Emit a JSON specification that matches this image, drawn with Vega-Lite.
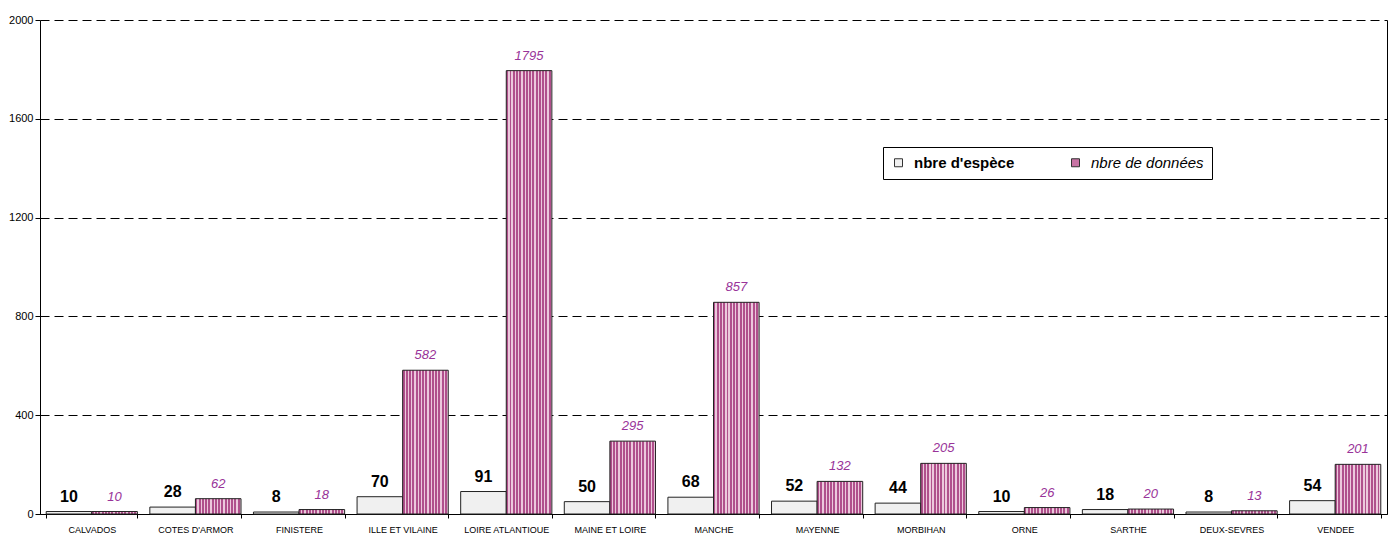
{
  "$schema": "https://vega.github.io/schema/vega-lite/v6.json",
  "width": 1347,
  "height": 494,
  "autosize": "none",
  "padding": {"left": 40, "top": 20, "right": 7, "bottom": 19},
  "background": "white",
  "config": {"view": {"stroke": null}, "font": "Liberation Sans"},
  "data": {
    "values": [
      {"dept": "CALVADOS", "series": "nbre d'espèce", "value": 10},
      {"dept": "CALVADOS", "series": "nbre de données", "value": 10},
      {"dept": "COTES D'ARMOR", "series": "nbre d'espèce", "value": 28},
      {"dept": "COTES D'ARMOR", "series": "nbre de données", "value": 62},
      {"dept": "FINISTERE", "series": "nbre d'espèce", "value": 8},
      {"dept": "FINISTERE", "series": "nbre de données", "value": 18},
      {"dept": "ILLE ET VILAINE", "series": "nbre d'espèce", "value": 70},
      {"dept": "ILLE ET VILAINE", "series": "nbre de données", "value": 582},
      {"dept": "LOIRE ATLANTIQUE", "series": "nbre d'espèce", "value": 91},
      {"dept": "LOIRE ATLANTIQUE", "series": "nbre de données", "value": 1795},
      {"dept": "MAINE ET LOIRE", "series": "nbre d'espèce", "value": 50},
      {"dept": "MAINE ET LOIRE", "series": "nbre de données", "value": 295},
      {"dept": "MANCHE", "series": "nbre d'espèce", "value": 68},
      {"dept": "MANCHE", "series": "nbre de données", "value": 857},
      {"dept": "MAYENNE", "series": "nbre d'espèce", "value": 52},
      {"dept": "MAYENNE", "series": "nbre de données", "value": 132},
      {"dept": "MORBIHAN", "series": "nbre d'espèce", "value": 44},
      {"dept": "MORBIHAN", "series": "nbre de données", "value": 205},
      {"dept": "ORNE", "series": "nbre d'espèce", "value": 10},
      {"dept": "ORNE", "series": "nbre de données", "value": 26},
      {"dept": "SARTHE", "series": "nbre d'espèce", "value": 18},
      {"dept": "SARTHE", "series": "nbre de données", "value": 20},
      {"dept": "DEUX-SEVRES", "series": "nbre d'espèce", "value": 8},
      {"dept": "DEUX-SEVRES", "series": "nbre de données", "value": 13},
      {"dept": "VENDEE", "series": "nbre d'espèce", "value": 54},
      {"dept": "VENDEE", "series": "nbre de données", "value": 201}
    ]
  },
  "encoding": {
    "x": {
      "field": "dept",
      "type": "nominal",
      "sort": ["CALVADOS", "COTES D'ARMOR", "FINISTERE", "ILLE ET VILAINE", "LOIRE ATLANTIQUE", "MAINE ET LOIRE", "MANCHE", "MAYENNE", "MORBIHAN", "ORNE", "SARTHE", "DEUX-SEVRES", "VENDEE"],
      "scale": {"paddingInner": 0.12, "paddingOuter": 0.06},
      "axis": {
        "title": null,
        "labelAngle": 0,
        "labelFontSize": 9,
        "labelColor": "black",
        "labelPadding": 7,
        "tickSize": 4,
        "tickColor": "black",
        "tickBand": "extent",
        "domainColor": "black",
        "labelLimit": 200
      }
    },
    "xOffset": {
      "field": "series",
      "type": "nominal",
      "sort": ["nbre d'espèce", "nbre de données"],
      "scale": {"paddingInner": 0, "paddingOuter": 0}
    }
  },
  "layer": [
    {
      "mark": {"type": "bar", "stroke": "#222222", "strokeWidth": 1},
      "encoding": {
        "y": {
          "field": "value",
          "type": "quantitative",
          "scale": {"domain": [0, 2000], "nice": false},
          "axis": {
            "title": null,
            "values": [0, 400, 800, 1200, 1600, 2000],
            "format": "d",
            "labelFontSize": 11,
            "labelColor": "black",
            "labelPadding": 2,
            "tickSize": 5,
            "tickColor": "black",
            "domainColor": "black",
            "grid": true,
            "gridColor": "black",
            "gridDash": [9, 5],
            "gridOpacity": 1
          }
        },
        "fill": {
          "condition": {
            "test": "datum.series === \"nbre de données\"",
            "value": {
              "gradient": "linear", "x1": 0, "y1": 0, "x2": 1, "y2": 0,
              "stops": [
                {"offset": 0, "color": "#b0508c"}, {"offset": 0.043, "color": "#b0508c"}, {"offset": 0.043, "color": "#ecc8dc"}, {"offset": 0.0714, "color": "#ecc8dc"},
                {"offset": 0.0714, "color": "#b0508c"}, {"offset": 0.1144, "color": "#b0508c"}, {"offset": 0.1144, "color": "#ecc8dc"}, {"offset": 0.1429, "color": "#ecc8dc"},
                {"offset": 0.1429, "color": "#b0508c"}, {"offset": 0.1859, "color": "#b0508c"}, {"offset": 0.1859, "color": "#ecc8dc"}, {"offset": 0.2143, "color": "#ecc8dc"},
                {"offset": 0.2143, "color": "#b0508c"}, {"offset": 0.2573, "color": "#b0508c"}, {"offset": 0.2573, "color": "#ecc8dc"}, {"offset": 0.2857, "color": "#ecc8dc"},
                {"offset": 0.2857, "color": "#b0508c"}, {"offset": 0.3287, "color": "#b0508c"}, {"offset": 0.3287, "color": "#ecc8dc"}, {"offset": 0.3571, "color": "#ecc8dc"},
                {"offset": 0.3571, "color": "#b0508c"}, {"offset": 0.4001, "color": "#b0508c"}, {"offset": 0.4001, "color": "#ecc8dc"}, {"offset": 0.4286, "color": "#ecc8dc"},
                {"offset": 0.4286, "color": "#b0508c"}, {"offset": 0.4716, "color": "#b0508c"}, {"offset": 0.4716, "color": "#ecc8dc"}, {"offset": 0.5, "color": "#ecc8dc"},
                {"offset": 0.5, "color": "#b0508c"}, {"offset": 0.543, "color": "#b0508c"}, {"offset": 0.543, "color": "#ecc8dc"}, {"offset": 0.5714, "color": "#ecc8dc"},
                {"offset": 0.5714, "color": "#b0508c"}, {"offset": 0.6144, "color": "#b0508c"}, {"offset": 0.6144, "color": "#ecc8dc"}, {"offset": 0.6429, "color": "#ecc8dc"},
                {"offset": 0.6429, "color": "#b0508c"}, {"offset": 0.6859, "color": "#b0508c"}, {"offset": 0.6859, "color": "#ecc8dc"}, {"offset": 0.7143, "color": "#ecc8dc"},
                {"offset": 0.7143, "color": "#b0508c"}, {"offset": 0.7573, "color": "#b0508c"}, {"offset": 0.7573, "color": "#ecc8dc"}, {"offset": 0.7857, "color": "#ecc8dc"},
                {"offset": 0.7857, "color": "#b0508c"}, {"offset": 0.8287, "color": "#b0508c"}, {"offset": 0.8287, "color": "#ecc8dc"}, {"offset": 0.8571, "color": "#ecc8dc"},
                {"offset": 0.8571, "color": "#b0508c"}, {"offset": 0.9001, "color": "#b0508c"}, {"offset": 0.9001, "color": "#ecc8dc"}, {"offset": 0.9286, "color": "#ecc8dc"},
                {"offset": 0.9286, "color": "#b0508c"}, {"offset": 0.9716, "color": "#b0508c"}, {"offset": 0.9716, "color": "#ecc8dc"}, {"offset": 1, "color": "#ecc8dc"}
              ]
            }
          },
          "field": "series",
          "type": "nominal",
          "sort": ["nbre d'espèce", "nbre de données"],
          "scale": {
            "domain": ["nbre d'espèce", "nbre de données"],
            "range": ["#f0f0f0", "#c873a4"]
          },
          "legend": {
            "title": null,
            "orient": "none",
            "legendX": 843,
            "legendY": 127,
            "direction": "horizontal",
            "strokeColor": "black",
            "fillColor": "white",
            "padding": 8,
            "symbolType": "square",
            "symbolSize": 64,
            "symbolStrokeColor": "#333333",
            "symbolStrokeWidth": 1,
            "labelFontSize": 15,
            "labelColor": "black",
            "labelOffset": 8,
            "columnPadding": 41,
            "gridAlign": "all",
            "encode": {
              "labels": {
                "update": {
                  "fontWeight": [{"test": "datum.label === \"nbre d'espèce\"", "value": "bold"}, {"value": "normal"}],
                  "fontStyle": [{"test": "datum.label === \"nbre de données\"", "value": "italic"}, {"value": "normal"}]
                }
              }
            }
          }
        }
      }
    },
    {
      "transform": [{"filter": "datum.series === \"nbre d'espèce\""}],
      "mark": {"type": "text", "fontWeight": "bold", "fontSize": 16, "dy": -15, "baseline": "middle", "color": "black"},
      "encoding": {
        "y": {
          "field": "value",
          "type": "quantitative",
          "scale": {"domain": [0, 2000], "nice": false},
          "axis": {"orient": "right", "title": null, "labels": false, "ticks": false, "grid": false, "domain": true, "domainColor": "black"}
        },
        "text": {"field": "value", "type": "quantitative"}
      }
    },
    {
      "transform": [{"filter": "datum.series === \"nbre de données\""}],
      "mark": {"type": "text", "fontStyle": "italic", "fontSize": 13, "dy": -15, "baseline": "middle", "color": "#993399"},
      "encoding": {
        "y": {
          "field": "value",
          "type": "quantitative",
          "scale": {"domain": [0, 2000], "nice": false},
          "axis": null
        },
        "text": {"field": "value", "type": "quantitative"}
      }
    }
  ],
  "resolve": {"axis": {"y": "independent"}}
}
